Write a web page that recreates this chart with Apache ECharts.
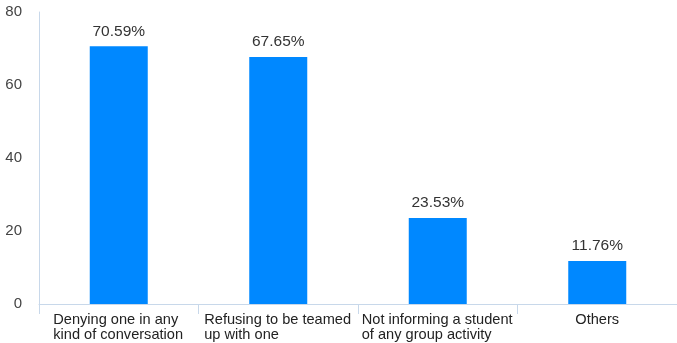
<!DOCTYPE html>
<html><head><meta charset="utf-8">
<script src="https://cdn.jsdelivr.net/npm/echarts@6/dist/echarts.min.js"></script>
<style>html,body{margin:0;padding:0;background:#fff}#c{width:677px;height:343px}</style>
</head><body><div id="c"></div>
<script>
var categories = [
  'Denying one in any\nkind of conversation',
  'Refusing to be teamed\nup with one',
  'Not informing a student\nof any group activity',
  'Others'
];
var values = [70.59, 67.65, 23.53, 11.76];
var yTicks = [0, 20, 40, 60, 80];

var FONT = 'Liberation Sans';
var CAT_SIZE = 14.6;
var ctx = document.createElement('canvas').getContext('2d');
ctx.font = CAT_SIZE + 'px "' + FONT + '"';
var rich = {};
categories.forEach(function (c, i) {
  var w = Math.max.apply(null, c.split('\n').map(function (s) { return ctx.measureText(s).width; }));
  rich['r' + i] = {width: Math.ceil(w) + 1, align: 'left', fontSize: CAT_SIZE, lineHeight: 15, color: '#222', fontFamily: FONT};
});

var chart = echarts.init(document.getElementById('c'));
chart.setOption({
  animation: false,
  grid: {left: 39, top: 12, bottom: 39, width: 643, containLabel: false},
  xAxis: {
    type: 'category',
    data: categories,
    axisLine: {lineStyle: {color: '#c8d8ea', width: 1}},
    axisTick: {show: true, length: 10, lineStyle: {color: '#c8d8ea'}},
    axisLabel: {
      interval: 0, margin: 8, color: '#222', fontSize: CAT_SIZE,
      fontFamily: FONT, lineHeight: 15,
      formatter: function (v, i) {
        if (v.indexOf('\n') < 0) return v;
        return v.split('\n').map(function (s) { return '{r' + i + '|' + s + '}'; }).join('\n');
      },
      rich: rich
    }
  },
  yAxis: {
    type: 'value', min: yTicks[0], max: yTicks[yTicks.length - 1], interval: 20,
    axisLine: {show: true, lineStyle: {color: '#c8d8ea'}},
    axisTick: {show: false},
    splitLine: {show: false},
    axisLabel: {margin: 17, color: '#444', fontSize: 15, fontFamily: FONT}
  },
  series: [{
    type: 'bar',
    data: values,
    barWidth: 58,
    itemStyle: {color: '#0088ff'},
    label: {
      show: true, position: 'top', distance: 7, color: '#333', fontSize: 15.5,
      fontFamily: FONT,
      formatter: function (p) { return p.value.toFixed(2) + '%'; }
    }
  }]
});
</script></body></html>
